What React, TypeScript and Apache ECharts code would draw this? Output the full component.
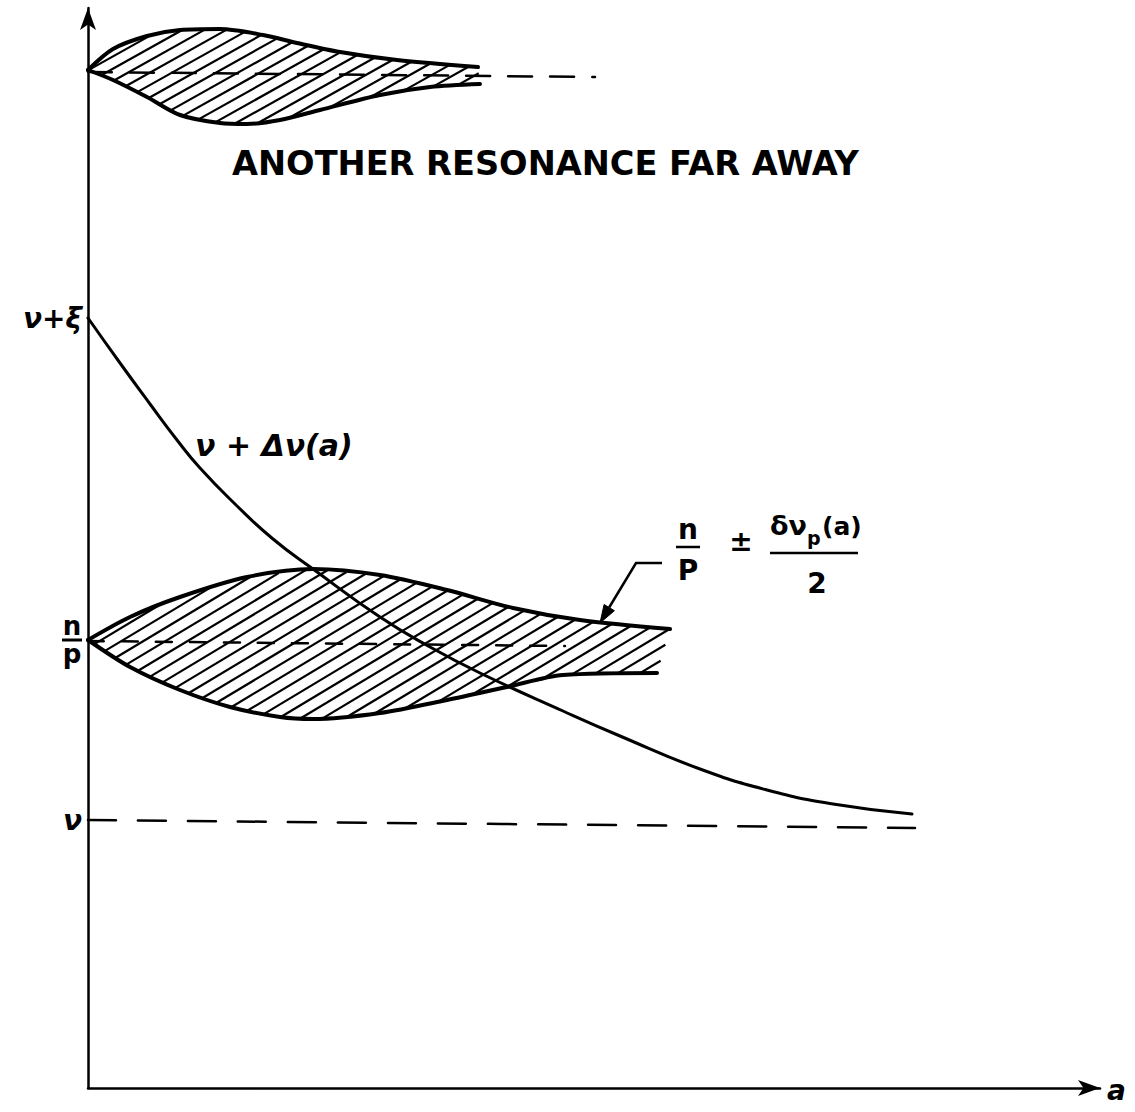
import React, { useEffect, useRef } from "react";
import * as echarts from "echarts";

// Detuning curve ν + Δν(a)
const tuneX = [0, 0.32, 0.62, 0.89, 1.12, 1.47, 1.85, 2.25, 2.92, 3.42, 3.92, 4.75, 5.32, 6.12, 6.79, 7.45, 8.24];
const tuneY = [7.7, 7.25, 6.84, 6.48, 6.2, 5.84, 5.49, 5.19, 4.71, 4.41, 4.15, 3.77, 3.52, 3.19, 2.98, 2.84, 2.74];

// Resonance band n/p ± δν_p(a)/2
const resUpperX = [0, 0.42, 0.92, 1.59, 2.25, 2.92, 3.59, 4.25, 4.92, 5.82];
const resUpperY = [4.48, 4.71, 4.91, 5.11, 5.19, 5.13, 4.98, 4.8, 4.68, 4.59];
const resLowerX = [0, 0.42, 0.92, 1.42, 1.92, 2.25, 2.92, 3.59, 4.19, 4.75, 5.69];
const resLowerY = [4.48, 4.21, 3.98, 3.81, 3.71, 3.69, 3.75, 3.88, 4.01, 4.13, 4.15];
const resCentreX = [0, 4.77];
const resCentreY = [4.47, 4.42];

// Another resonance, far away
const farUpperX = [0, 0.25, 0.59, 0.92, 1.32, 1.75, 2.09, 2.52, 3.09, 3.9];
const farUpperY = [10.18, 10.39, 10.52, 10.58, 10.59, 10.53, 10.45, 10.36, 10.28, 10.21];
const farLowerX = [0, 0.25, 0.59, 0.92, 1.32, 1.59, 1.92, 2.32, 2.92, 3.42, 3.92];
const farLowerY = [10.18, 10.08, 9.91, 9.73, 9.65, 9.64, 9.68, 9.78, 9.93, 10.01, 10.04];
const farCentreX = [0, 5.07];
const farCentreY = [10.16, 10.11];

// Unperturbed tune ν
const nuX = [0, 8.27];
const nuY = [2.68, 2.6];

// Levels marked on the vertical axis
const levelValues = [7.7, 4.48, 2.68];
const levelLabels = ["{g|ν+ξ}", "{n|n}\n{bar|}\n{n|p}", "{g|ν}"];

const INK = "#000";
const FONT = "DejaVu Sans";

const pairs = (xs: number[], ys: number[]) => xs.map((x, i) => [x, ys[i]]);

function lineSeries(xs: number[], ys: number[], width: number, dash?: number[], smooth = 0.3) {
  return {
    type: "line",
    data: pairs(xs, ys),
    smooth,
    symbol: "none",
    silent: true,
    z: 3,
    lineStyle: { color: INK, width, type: dash ? dash : "solid", cap: "round" },
  };
}

// Diagonal hatching clipped to the band between two boundary curves
function hatchSeries(
  ux: number[], uy: number[], lx: number[], ly: number[],
  slope: number, gap: number
) {
  return {
    type: "custom",
    coordinateSystem: "cartesian2d",
    data: [[ux[0], uy[0]]],
    clip: false,
    silent: true,
    z: 2,
    renderItem: (_params: any, api: any) => {
      const poly: number[][] = [];
      ux.forEach((x, i) => poly.push(api.coord([x, uy[i]])));
      for (let i = lx.length - 1; i >= 0; i--) poly.push(api.coord([lx[i], ly[i]]));
      const cs = poly.map((p) => p[1] + slope * p[0]);
      const cMin = Math.min(...cs);
      const cMax = Math.max(...cs);
      const step = slope * gap;
      const children: any[] = [];
      for (let c = cMin + step * 0.6; c < cMax; c += step) {
        const xs: number[] = [];
        for (let i = 0; i < poly.length; i++) {
          const a = poly[i];
          const b = poly[(i + 1) % poly.length];
          const fa = a[1] + slope * a[0] - c;
          const fb = b[1] + slope * b[0] - c;
          if ((fa < 0 && fb >= 0) || (fa >= 0 && fb < 0)) {
            const t = fa / (fa - fb);
            xs.push(a[0] + t * (b[0] - a[0]));
          }
        }
        xs.sort((m, n) => m - n);
        for (let j = 0; j + 1 < xs.length; j += 2) {
          children.push({
            type: "line",
            shape: { x1: xs[j], y1: c - slope * xs[j], x2: xs[j + 1], y2: c - slope * xs[j + 1] },
            style: { stroke: INK, lineWidth: 2.2 },
          });
        }
      }
      return { type: "group", children };
    },
  };
}

function txt(text: string, x: number, y: number, font: string, align = "left") {
  return {
    type: "text",
    x,
    y,
    silent: true,
    style: { text, font, fill: INK, align, verticalAlign: "middle" },
  };
}

export default function App() {
  const ref = useRef<HTMLDivElement>(null);

  useEffect(() => {
    if (!ref.current) return;
    const chart = echarts.init(ref.current, undefined, { renderer: "svg" });

    const arrowTip = [600, 623];

    chart.setOption({
      animation: false,
      backgroundColor: "#fff",
      grid: { left: 88, right: 35, top: 8, bottom: 24 },
      xAxis: {
        type: "value",
        min: 0,
        max: 10.12,
        axisLine: {
          show: true,
          symbol: ["none", "arrow"],
          symbolSize: [12, 22],
          lineStyle: { color: INK, width: 2.5 },
        },
        axisTick: { show: false },
        axisLabel: { show: false },
        splitLine: { show: false },
      },
      yAxis: {
        type: "value",
        min: 0,
        max: 10.8,
        axisLine: {
          show: true,
          symbol: ["none", "arrow"],
          symbolSize: [12, 22],
          lineStyle: { color: INK, width: 2.5 },
        },
        axisTick: { show: false },
        splitLine: { show: false },
        axisLabel: {
          show: true,
          customValues: levelValues,
          margin: 6,
          formatter: (v: number) => {
            const i = levelValues.findIndex((lv) => Math.abs(lv - v) < 1e-6);
            return i >= 0 ? levelLabels[i] : "";
          },
          rich: {
            g: { fontFamily: FONT, fontSize: 28, fontWeight: "bold", fontStyle: "italic", color: INK },
            n: { fontFamily: FONT, fontSize: 26, fontWeight: "bold", color: INK, lineHeight: 22, align: "center" },
            bar: { width: 20, height: 3, backgroundColor: INK, lineHeight: 6, align: "center" },
          },
        },
      },
      graphic: [
        txt("ANOTHER RESONANCE FAR AWAY", 232, 163, `bold 33.6px ${FONT}`),
        txt("ν + Δν(a)", 195, 445, `bold italic 30px ${FONT}`),
        // n/P ± δν_p(a)/2
        txt("n", 688, 529, `bold 28px ${FONT}`, "center"),
        { type: "line", silent: true, shape: { x1: 676, y1: 547, x2: 700, y2: 547 }, style: { stroke: INK, lineWidth: 2.5 } },
        txt("P", 688, 570, `bold 28px ${FONT}`, "center"),
        txt("±", 741, 541, `bold 28px ${FONT}`, "center"),
        txt("δν", 770, 525, `bold 27px ${FONT}`),
        txt("p", 807, 538, `bold 19px ${FONT}`),
        txt("(a)", 822, 526, `bold 25px ${FONT}`),
        { type: "line", silent: true, shape: { x1: 770, y1: 553, x2: 858, y2: 553 }, style: { stroke: INK, lineWidth: 2.5 } },
        txt("2", 817, 583, `bold 28px ${FONT}`, "center"),
        // leader arrow to the band edge
        {
          type: "polyline",
          silent: true,
          shape: { points: [[662, 563], [636, 563], [604, 616]] },
          style: { stroke: INK, lineWidth: 2.5, fill: "none" },
        },
        {
          type: "polygon",
          silent: true,
          shape: { points: [arrowTip, [614.4, 610.7], [604.1, 604.5]] },
          style: { fill: INK, stroke: INK, lineWidth: 1 },
        },
        txt("a", 1107, 1090, `bold italic 28px ${FONT}`),
      ],
      series: [
        hatchSeries(resUpperX, resUpperY, resLowerX, resLowerY, 0.6, 22),
        hatchSeries(farUpperX, farUpperY, farLowerX, farLowerY, 0.56, 22),
        lineSeries(tuneX, tuneY, 3, undefined, 0.5),
        lineSeries(resUpperX, resUpperY, 4),
        lineSeries(resLowerX, resLowerY, 4),
        lineSeries(resCentreX, resCentreY, 2.5, [16, 18]),
        lineSeries(farUpperX, farUpperY, 4),
        lineSeries(farLowerX, farLowerY, 4),
        lineSeries(farCentreX, farCentreY, 2.5, [24, 18]),
        lineSeries(nuX, nuY, 2.5, [28, 22]),
      ],
    });

    return () => chart.dispose();
  }, []);

  return (
    <div
      ref={ref}
      style={{ position: "fixed", left: 0, top: 0, width: 1135, height: 1112, background: "#fff" }}
    />
  );
}
